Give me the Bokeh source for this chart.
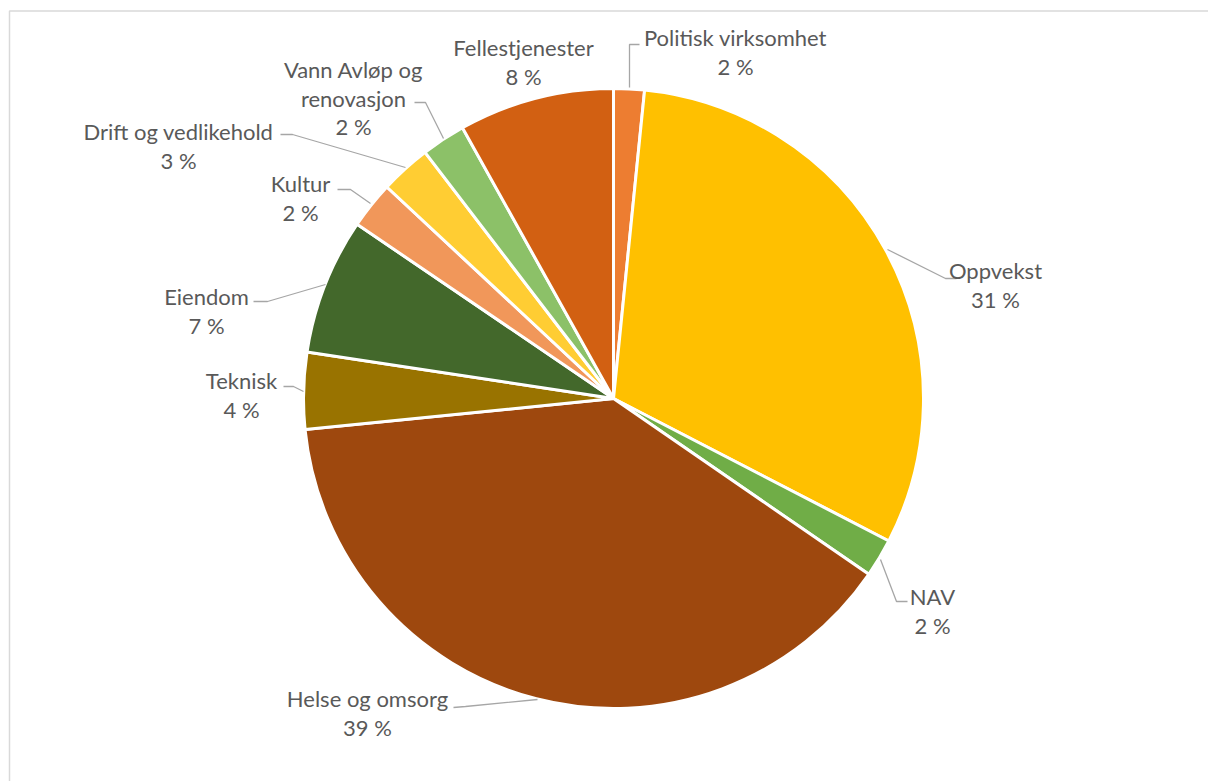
import numpy as np
from bokeh.plotting import figure
from bokeh.models import Range1d, ColumnDataSource
from bokeh.embed import file_html
from bokeh.resources import INLINE
from bokeh.core.properties import value

# ---- data ----
categories = ["Politisk virksomhet", "Oppvekst", "NAV", "Helse og omsorg", "Teknisk",
              "Eiendom", "Kultur", "Drift og vedlikehold", "Vann Avløp og renovasjon",
              "Fellestjenester"]
shares = [1.6, 31.0, 2.0, 38.8, 4.0, 7.1, 2.45, 2.65, 2.3, 8.1]
pct_labels = ["2 %", "31 %", "2 %", "39 %", "4 %", "7 %", "2 %", "3 %", "2 %", "8 %"]
colors = ["#ED7D31", "#FFC000", "#70AD47", "#9E480E", "#997300",
          "#43682B", "#F1975A", "#FFCD33", "#8CC168", "#D26012"]

# ---- layout ----
W, H = 1208, 781
CX, CY, R = 613, 398, 310   # pixel coords (y from top)

def fy(y):
    return H - y

# label line wrapping and positions (pixel coords, first line centre)
wrap = {"Vann Avløp og renovasjon": ["Vann Avløp og", "renovasjon"]}
label_pos = [(735, 37), (995, 270), (932, 596), (367, 698), (241, 380),
             (206, 296), (300, 183), (178, 131), (353, 69), (523, 47)]
LINE = 28.5
leaders = [
    [(629, 87), (629, 44), (639, 44)],
    [(887, 249), (945, 278), (956, 278)],
    [(880, 559), (896, 601), (907, 601)],
    [(537, 699), (465, 706), (453, 707)],
    [(303, 391), (293, 386), (283, 386)],
    [(325, 284), (267, 301), (253, 301)],
    [(370, 203), (350, 189), (337, 189)],
    [(405, 167), (292, 134), (280, 134)],
    [(443, 138), (425, 102), (414, 102)],
    None,
]

total = float(sum(shares))
fr = np.array(shares) / total
cum_end = np.cumsum(fr)
cum_start = cum_end - fr
start_angle = np.pi / 2 - 2 * np.pi * cum_start
end_angle = np.pi / 2 - 2 * np.pi * cum_end

p = figure(width=W, height=H, x_range=Range1d(0, W), y_range=Range1d(0, H),
           output_backend="svg", toolbar_location=None, min_border=0)
p.axis.visible = False
p.grid.visible = False
p.outline_line_color = None
p.background_fill_color = "white"
p.border_fill_color = "white"

# chart area border
p.line([9, 9, W + 5], [fy(H + 5), fy(10.5), fy(10.5)], line_color="#D9D9D9", line_width=1.5)

src = ColumnDataSource(dict(start=start_angle, end=end_angle, color=colors, cat=categories))
p.wedge(x=CX, y=fy(CY), radius=R, start_angle="start", end_angle="end",
        direction="clock", fill_color="color", line_color="white", line_width=3,
        source=src)

# leader lines
xs, ys = [], []
for ld in leaders:
    if ld is None:
        continue
    xs.append([pt[0] for pt in ld])
    ys.append([fy(pt[1]) for pt in ld])
p.multi_line(xs, ys, line_color="#A6A6A6", line_width=1.3)

# labels
tx, ty, tt = [], [], []
for cat, pct, (lx, ly) in zip(categories, pct_labels, label_pos):
    lines = wrap.get(cat, [cat]) + [pct]
    for i, t in enumerate(lines):
        tx.append(lx)
        ty.append(fy(ly + i * LINE))
        tt.append(t)
p.text(x=tx, y=ty, text=tt, text_align="center", text_baseline="middle",
       text_font=value("Lato"), text_font_size="22px", text_color="#595959")

open("out.html", "w").write(file_html(p, INLINE))
